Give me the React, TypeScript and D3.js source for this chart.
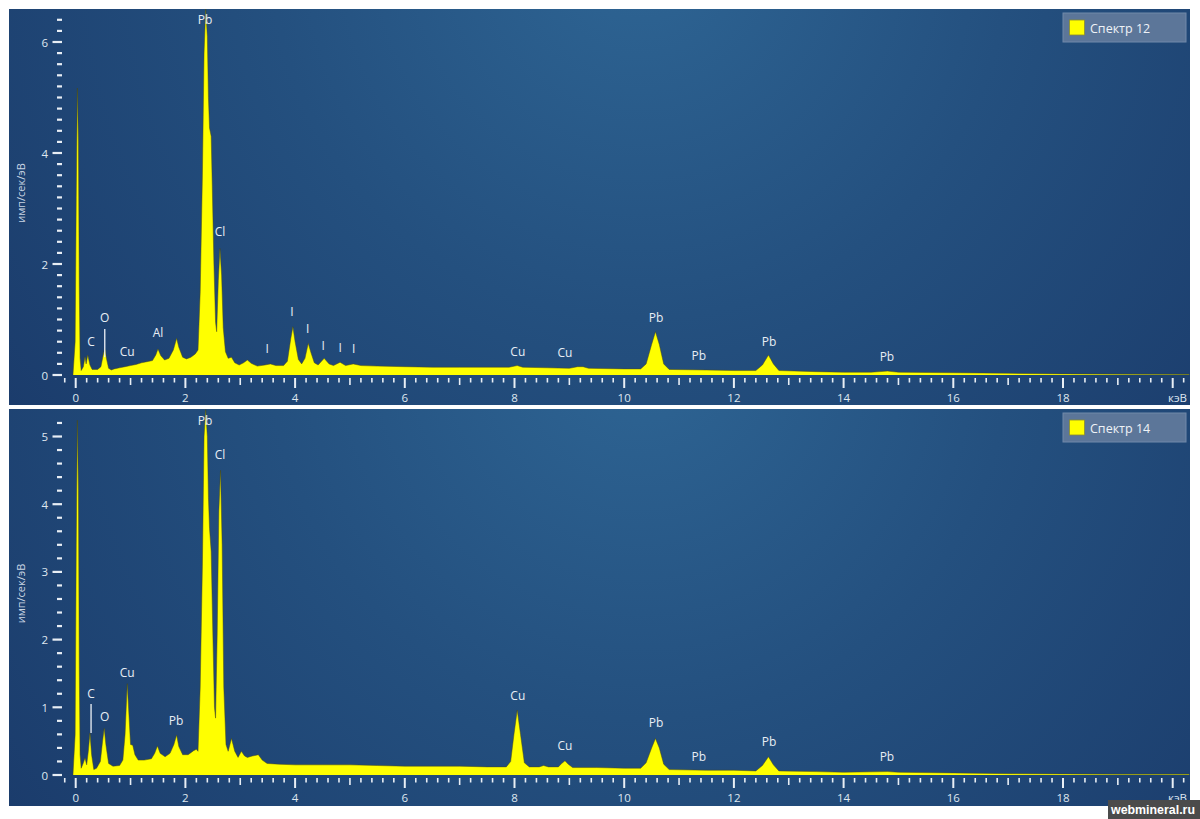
import React from "react";
import * as d3 from "d3";

// ---------- DATA ----------
// Spectrum 12 (top): [energy keV, counts imp/sec/eV]
const spec12: [number, number][] = [
  [-0.05, 0], [-0.01, 0.6], [0.01, 3.2], [0.03, 5.17], [0.05, 4.2], [0.065, 1.6], [0.08, 0.3], [0.1, 0.08],
  [0.14, 0.15], [0.17, 0.33], [0.19, 0.2], [0.22, 0.36], [0.26, 0.18], [0.3, 0.1], [0.4, 0.1],
  [0.46, 0.15], [0.5, 0.35], [0.53, 0.48], [0.56, 0.3], [0.6, 0.12], [0.65, 0.09], [0.7, 0.11],
  [0.8, 0.13], [0.9, 0.15], [1.0, 0.17], [1.1, 0.19], [1.2, 0.22], [1.3, 0.24], [1.4, 0.26],
  [1.46, 0.36], [1.5, 0.47], [1.55, 0.35], [1.62, 0.27], [1.7, 0.3], [1.78, 0.45], [1.84, 0.66],
  [1.88, 0.5], [1.95, 0.32], [2.02, 0.29], [2.1, 0.32], [2.18, 0.38], [2.23, 0.45], [2.27, 1.5],
  [2.31, 3.6], [2.34, 5.8], [2.37, 6.6], [2.40, 6.1], [2.42, 5.0], [2.44, 4.45], [2.47, 4.3],
  [2.49, 3.4], [2.52, 2.0], [2.55, 0.95], [2.57, 0.78], [2.6, 1.7], [2.63, 2.28], [2.66, 1.8],
  [2.69, 0.85], [2.73, 0.42], [2.78, 0.3], [2.84, 0.32], [2.9, 0.22], [2.98, 0.18], [3.06, 0.22],
  [3.13, 0.27], [3.2, 0.21], [3.31, 0.16], [3.45, 0.18], [3.55, 0.2], [3.65, 0.17], [3.79, 0.17],
  [3.86, 0.25], [3.92, 0.65], [3.96, 0.87], [4.0, 0.6], [4.06, 0.28], [4.12, 0.2], [4.18, 0.3],
  [4.24, 0.57], [4.29, 0.4], [4.35, 0.22], [4.42, 0.18], [4.53, 0.3], [4.62, 0.2], [4.7, 0.17],
  [4.82, 0.23], [4.92, 0.17], [5.06, 0.2], [5.2, 0.17], [5.5, 0.16], [6.0, 0.15], [6.5, 0.14],
  [7.0, 0.14], [7.5, 0.14], [7.9, 0.14], [8.05, 0.17], [8.15, 0.14], [8.6, 0.13], [9.0, 0.12],
  [9.15, 0.15], [9.25, 0.15], [9.35, 0.12], [10.0, 0.11], [10.3, 0.11], [10.4, 0.2], [10.5, 0.55],
  [10.57, 0.78], [10.64, 0.55], [10.72, 0.2], [10.82, 0.1], [11.5, 0.09], [12.0, 0.08],
  [12.4, 0.08], [12.52, 0.18], [12.63, 0.36], [12.72, 0.2], [12.82, 0.08], [13.5, 0.06],
  [14.0, 0.05], [14.5, 0.05], [14.8, 0.07], [15.0, 0.05], [16.0, 0.04], [17.0, 0.03],
  [18.0, 0.02], [19.0, 0.015], [20.3, 0.01],
];

// Spectrum 14 (bottom)
const spec14: [number, number][] = [
  [-0.05, 0], [-0.01, 0.6], [0.01, 3.4], [0.03, 5.24], [0.05, 4.2], [0.065, 1.6], [0.08, 0.3], [0.1, 0.1],
  [0.14, 0.18], [0.17, 0.25], [0.2, 0.15], [0.23, 0.35], [0.26, 0.62], [0.29, 0.3], [0.33, 0.08],
  [0.38, 0.1], [0.45, 0.2], [0.49, 0.5], [0.52, 0.69], [0.55, 0.45], [0.6, 0.17], [0.68, 0.13],
  [0.8, 0.14], [0.86, 0.22], [0.9, 0.6], [0.94, 1.35], [0.97, 0.9], [1.0, 0.45], [1.04, 0.44],
  [1.08, 0.3], [1.14, 0.22], [1.25, 0.22], [1.38, 0.24], [1.44, 0.32], [1.49, 0.43], [1.54, 0.32],
  [1.63, 0.27], [1.72, 0.32], [1.79, 0.45], [1.84, 0.59], [1.88, 0.42], [1.95, 0.3], [2.05, 0.3],
  [2.15, 0.36], [2.2, 0.38], [2.23, 0.35], [2.27, 1.3], [2.31, 3.1], [2.34, 5.0], [2.37, 5.4],
  [2.40, 5.0], [2.42, 4.1], [2.44, 3.64], [2.47, 3.3], [2.5, 2.1], [2.53, 1.0], [2.55, 0.84],
  [2.58, 2.1], [2.61, 3.9], [2.64, 4.5], [2.67, 3.4], [2.7, 1.3], [2.74, 0.45], [2.78, 0.35],
  [2.84, 0.54], [2.9, 0.35], [2.96, 0.26], [3.02, 0.35], [3.08, 0.28], [3.13, 0.26], [3.22, 0.28],
  [3.33, 0.3], [3.4, 0.22], [3.49, 0.17], [3.7, 0.16], [4.0, 0.15], [4.5, 0.15], [5.0, 0.15],
  [5.5, 0.14], [6.0, 0.13], [6.5, 0.13], [7.0, 0.13], [7.5, 0.12], [7.85, 0.12], [7.93, 0.2],
  [7.99, 0.6], [8.05, 0.96], [8.11, 0.6], [8.18, 0.18], [8.27, 0.12], [8.45, 0.12], [8.53, 0.14],
  [8.62, 0.12], [8.8, 0.12], [8.86, 0.17], [8.92, 0.21], [8.98, 0.16], [9.06, 0.11], [9.5, 0.11],
  [10.0, 0.1], [10.3, 0.1], [10.4, 0.18], [10.5, 0.4], [10.57, 0.54], [10.64, 0.4], [10.72, 0.16],
  [10.82, 0.08], [11.5, 0.07], [12.0, 0.07], [12.4, 0.06], [12.52, 0.14], [12.63, 0.27],
  [12.72, 0.15], [12.82, 0.06], [13.5, 0.05], [14.0, 0.04], [14.8, 0.05], [15.0, 0.04],
  [16.0, 0.03], [17.0, 0.02], [18.0, 0.015], [19.0, 0.01], [20.3, 0.01],
];

// Element labels: [text, energy, label height]
const labels12: [string, number, number][] = [
  ["Pb", 2.36, 6.4], ["Cl", 2.63, 2.58], ["O", 0.53, 1.03], ["C", 0.28, 0.61], ["Cu", 0.94, 0.43],
  ["Al", 1.5, 0.76], ["I", 3.49, 0.47], ["I", 3.94, 1.15], ["I", 4.23, 0.83], ["I", 4.51, 0.54],
  ["I", 4.82, 0.49], ["I", 5.07, 0.47], ["Cu", 8.06, 0.43], ["Cu", 8.92, 0.4], ["Pb", 10.58, 1.03],
  ["Pb", 11.36, 0.36], ["Pb", 12.64, 0.61], ["Pb", 14.79, 0.34],
];
const labels14: [string, number, number][] = [
  ["Pb", 2.36, 5.23], ["Cl", 2.63, 4.74], ["Cu", 0.94, 1.52], ["C", 0.28, 1.2], ["O", 0.53, 0.87],
  ["Pb", 1.83, 0.81], ["Cu", 8.06, 1.18], ["Cu", 8.92, 0.43], ["Pb", 10.58, 0.77],
  ["Pb", 11.36, 0.28], ["Pb", 12.64, 0.49], ["Pb", 14.79, 0.28],
];
// marker lines [energy, from, to]
const markers12: [number, number, number][] = [[0.53, 0.32, 0.83]];
const markers14: [number, number, number][] = [[0.28, 0.62, 1.05]];

const yLabels12 = [0, 2, 4, 6];
const yLabels14 = [0, 1, 2, 3, 4, 5];
const xLabels = [0, 2, 4, 6, 8, 10, 12, 14, 16, 18];

const FONT = "'Open Sans', 'Noto Sans', sans-serif";

type PanelProps = {
  top: number; bottom: number; data: [number, number][]; labels: [string, number, number][];
  markers: [number, number, number][]; yMax: number; yLabels: number[]; yBase: number; yPx: number;
  legend: string; id: string;
};

const x = d3.scaleLinear().domain([0, 20]).range([75.7, 1172.7]);

function Panel({ top, bottom, data, labels, markers, yMax, yLabels, yBase, yPx, legend, id }: PanelProps) {
  const y = d3.scaleLinear().domain([0, 1]).range([yBase, yBase - yPx]);
  const area = d3.area<[number, number]>().x(d => x(d[0])).y0(y(0)).y1(d => y(d[1]));
  const line = d3.line<[number, number]>().x(d => x(d[0])).y(d => y(d[1]));
  const xTicks = d3.range(-1, 102).map(i => i / 5);
  const nY = Math.round(yMax * 5);
  const yTicks = d3.range(0, nY + 1).map(i => i / 5);
  const left = 9, right = 1190;
  return (
    <g>
      <defs>
        <radialGradient id={"bg" + id} gradientUnits="userSpaceOnUse" cx={640} cy={top - 60} r={820}>
          <stop offset="0" stopColor="#2e6594" />
          <stop offset="0.45" stopColor="#24507f" />
          <stop offset="1" stopColor="#1a3a6a" />
        </radialGradient>
        <clipPath id={"clip" + id}>
          <rect x={left} y={top} width={right - left} height={bottom - top} />
        </clipPath>
      </defs>
      <rect x={left} y={top} width={right - left} height={bottom - top} fill={`url(#bg${id})`} />
      <g clipPath={`url(#clip${id})`}>
        <path d={area(data) || ""} fill="#ffff00" />
        <path d={line(data) || ""} fill="none" stroke="#4a4a10" strokeWidth={0.6} strokeOpacity={0.8} />
      </g>
      {/* x ticks */}
      {xTicks.map((t, i) => {
        const k = Math.round(t * 5);
        const major = k % 10 === 0;
        const mid = !major && k % 5 === 0;
        const len = major ? 10 : mid ? 7 : 4.5;
        return (
          <line key={"xt" + i} x1={x(t)} x2={x(t)} y1={yBase + 3} y2={yBase + 3 + len}
            stroke="#e8eef5" strokeWidth={major ? 2 : 1.6} />
        );
      })}
      {xLabels.map(t => (
        <text key={"xl" + t} x={x(t)} y={yBase + 22} textAnchor="middle" dominantBaseline="central"
          fontFamily={FONT} fontSize={11.5} fill="#dfe7f0">{t}</text>
      ))}
      <text x={1187} y={yBase + 22} textAnchor="end" dominantBaseline="central" fontFamily={FONT}
        fontSize={11.5} fill="#dfe7f0">кэВ</text>
      {/* y ticks */}
      {yTicks.map((t, i) => {
        const major = yLabels.includes(Math.round(t * 1000) / 1000);
        return (
          <line key={"yt" + i} x1={major ? 52.5 : 57} x2={62} y1={y(t)} y2={y(t)}
            stroke="#e8eef5" strokeWidth={2.2} />
        );
      })}
      {yLabels.map(t => (
        <text key={"yl" + t} x={48} y={y(t)} textAnchor="end" dominantBaseline="central"
          fontFamily={FONT} fontSize={11.5} fill="#dfe7f0">{t}</text>
      ))}
      <text transform={`translate(20, ${(top + bottom) / 2 - 14}) rotate(-90)`} textAnchor="middle"
        dominantBaseline="central" fontFamily={FONT} fontSize={11} fill="#c9d5e3">имп/сек/эВ</text>
      {/* element labels */}
      {markers.map((m, i) => (
        <line key={"mk" + i} x1={x(m[0])} x2={x(m[0])} y1={y(m[1])} y2={y(m[2])} stroke="#eef2f7" strokeWidth={1.3} />
      ))}
      {labels.map((l, i) => (
        <text key={"lb" + i} x={x(l[1])} y={y(l[2])} textAnchor="middle" dominantBaseline="central"
          fontFamily={FONT} fontSize={12} fill="#e8eef5">{l[0]}</text>
      ))}
      {/* legend */}
      <rect x={1063} y={top + 4} width={123} height={29} fill="#5c7699" stroke="#7189aa" strokeWidth={1} />
      <rect x={1069.5} y={top + 11} width={15} height={15} fill="#ffff00" stroke="#8a8a30" strokeWidth={0.8} />
      <text x={1090} y={top + 19} dominantBaseline="central" fontFamily={FONT} fontSize={12.5} fill="#eef2f7">{legend}</text>
    </g>
  );
}

export default function App() {
  return (
    <svg width={1200} height={819} style={{ position: "absolute", left: 0, top: 0, background: "#ffffff" }}>
      <Panel top={9} bottom={405} data={spec12} labels={labels12} markers={markers12} yMax={6.4}
        yLabels={yLabels12} yBase={375} yPx={55.5} legend="Спектр 12" id="a" />
      <Panel top={409} bottom={806} data={spec14} labels={labels14} markers={markers14} yMax={5.2}
        yLabels={yLabels14} yBase={775} yPx={67.7} legend="Спектр 14" id="b" />
      <rect x={1108} y={800} width={92} height={19} fill="#4b4b4b" />
      <text x={1111} y={810} textAnchor="start" dominantBaseline="central" fontFamily="'Liberation Sans', 'DejaVu Sans', sans-serif"
        fontWeight="bold" fontSize={12.5} textLength={84} lengthAdjust="spacingAndGlyphs" fill="#ffffff">webmineral.ru</text>
    </svg>
  );
}
